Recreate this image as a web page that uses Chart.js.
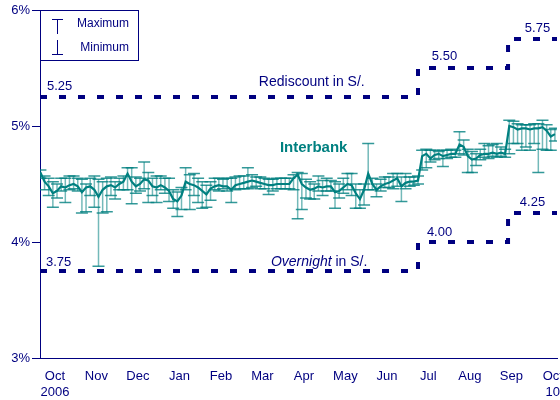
<!DOCTYPE html>
<html lang="en">
<head>
  <meta charset="UTF-8">
  <title>Interbank rate and BCRP rates</title>
  <script src="https://cdn.jsdelivr.net/npm/chart.js"></script>
  <style>
    html, body { margin: 0; padding: 0; background: #fff; overflow: hidden; }
    .wrap { position: relative; width: 580px; height: 400px; }
  </style>
</head>
<body>
  <div class="wrap">
    <canvas id="ratesChart"></canvas>
  </div>

  <script>
    // Month labels on the x axis (one per month, centred)
    const monthLabels = ['Oct', 'Nov', 'Dec', 'Jan', 'Feb', 'Mar', 'Apr', 'May', 'Jun', 'Jul', 'Aug', 'Sep', 'Oct'];
    const yearLabels  = ['2006', '', '', '', '', '', '', '', '', '', '', '', '10'];

    // Reference rates: month position where each level starts
    const rateStarts  = [0.14, 9.25, 11.42];
    const rediscount  = [5.25, 5.50, 5.75];
    const overnight   = [3.75, 4.00, 4.25];

    // Interbank rate, sampled across the period (in %)
    const X0 = 0.15, DX = 0.1;
    const interbank = [
      4.60,4.52,4.48,4.42,4.44,4.48,4.47,4.49,4.50,4.48,
      4.43,4.47,4.48,4.45,4.39,4.45,4.48,4.49,4.47,4.50,
      4.52,4.59,4.52,4.48,4.50,4.54,4.53,4.48,4.47,4.49,
      4.47,4.44,4.37,4.35,4.40,4.52,4.50,4.49,4.47,4.44,
      4.41,4.46,4.48,4.49,4.48,4.48,4.45,4.49,4.50,4.51,
      4.52,4.53,4.52,4.51,4.50,4.49,4.49,4.50,4.50,4.50,
      4.50,4.55,4.58,4.50,4.47,4.45,4.46,4.48,4.47,4.48,
      4.48,4.43,4.44,4.47,4.50,4.49,4.42,4.37,4.45,4.59,
      4.50,4.45,4.48,4.50,4.51,4.53,4.55,4.48,4.51,4.52,
      4.52,4.53,4.74,4.76,4.72,4.75,4.76,4.74,4.75,4.76,
      4.76,4.84,4.82,4.74,4.71,4.72,4.75,4.76,4.76,4.77,
      4.76,4.77,4.76,5.00,4.99,4.97,4.98,4.98,4.97,4.98,
      4.98,4.99,4.96,4.91,4.93
    ];
    const interbankMax = [
      4.62,4.57,4.55,4.52,4.50,4.55,4.55,4.57,4.57,4.55,
      4.54,4.50,4.55,4.57,4.54,4.52,4.55,4.56,4.52,4.55,
      4.57,4.64,4.64,4.56,4.55,4.69,4.60,4.55,4.57,4.57,
      4.55,4.55,4.45,4.43,4.47,4.64,4.58,4.59,4.55,4.52,
      4.49,4.52,4.55,4.55,4.54,4.55,4.55,4.56,4.57,4.57,
      4.64,4.58,4.56,4.56,4.55,4.54,4.54,4.55,4.55,4.55,
      4.55,4.58,4.60,4.59,4.54,4.52,4.50,4.57,4.53,4.55,
      4.53,4.52,4.50,4.55,4.59,4.59,4.50,4.45,4.50,4.85,
      4.55,4.50,4.54,4.56,4.56,4.59,4.59,4.56,4.59,4.56,
      4.56,4.57,4.79,4.80,4.79,4.79,4.78,4.79,4.79,4.80,
      4.79,4.95,4.88,4.80,4.78,4.76,4.80,4.85,4.83,4.84,
      4.85,4.82,4.80,5.05,5.04,5.02,5.01,5.01,5.01,5.02,
      5.02,5.05,5.01,4.97,4.98
    ];
    const interbankMin = [
      4.55,4.45,4.40,4.30,4.38,4.44,4.34,4.45,4.46,4.44,
      4.25,4.26,4.40,4.30,3.79,4.25,4.26,4.40,4.37,4.45,
      4.45,4.45,4.33,4.42,4.44,4.46,4.34,4.40,4.34,4.45,
      4.42,4.35,4.29,4.22,4.28,4.45,4.28,4.40,4.34,4.29,
      4.30,4.36,4.45,4.44,4.46,4.44,4.34,4.45,4.46,4.46,
      4.46,4.47,4.48,4.46,4.46,4.41,4.44,4.46,4.46,4.46,
      4.46,4.45,4.20,4.28,4.38,4.37,4.37,4.44,4.40,4.44,
      4.44,4.29,4.38,4.42,4.45,4.40,4.29,4.29,4.32,4.45,
      4.45,4.39,4.44,4.47,4.47,4.46,4.48,4.35,4.46,4.48,
      4.49,4.50,4.62,4.64,4.69,4.71,4.72,4.65,4.72,4.73,
      4.73,4.76,4.75,4.60,4.60,4.66,4.71,4.73,4.72,4.74,
      4.73,4.74,4.73,4.76,4.85,4.85,4.79,4.82,4.79,4.85,
      4.60,4.80,4.79,4.79,4.87
    ];

    const X_MIN = 0.14, X_MAX = 12.6;
    const NAVY = '#000080';
    const TEAL = '#008080';

    Chart.defaults.font.family = '"Liberation Sans", Arial, sans-serif';
    Chart.defaults.color = NAVY;

    const xs = interbank.map((v, i) => X0 + i * DX);
    const interbankPoints = interbank.map((v, i) => ({ x: xs[i], y: v }));

    function stepPoints(levels) {
      const pts = rateStarts.map((s, i) => ({ x: s, y: levels[i] }));
      pts.push({ x: X_MAX, y: levels[levels.length - 1] });
      return pts;
    }

    // max / min error bars behind the line
    const errorBars = {
      id: 'errorBars',
      beforeDatasetsDraw(chart) {
        const { ctx, chartArea, scales } = chart;
        ctx.save();
        ctx.beginPath();
        ctx.rect(chartArea.left, chartArea.top, chartArea.right - chartArea.left, chartArea.bottom - chartArea.top);
        ctx.clip();
        ctx.lineWidth = 1.5;
        for (let i = 0; i < interbank.length; i++) {
          const px = scales.x.getPixelForValue(xs[i]);
          const pTop = scales.y.getPixelForValue(interbankMax[i]);
          const pBot = scales.y.getPixelForValue(interbankMin[i]);
          ctx.strokeStyle = 'rgba(0,128,128,0.55)';
          ctx.beginPath();
          ctx.moveTo(px, pTop);
          ctx.lineTo(px, pBot);
          ctx.stroke();
          ctx.strokeStyle = 'rgba(0,128,128,0.8)';
          ctx.beginPath();
          ctx.moveTo(px - 6, pTop); ctx.lineTo(px + 6, pTop);
          ctx.moveTo(px - 6, pBot); ctx.lineTo(px + 6, pBot);
          ctx.stroke();
        }
        ctx.restore();
      }
    };

    // texts and the small max/min key
    const labels = {
      id: 'labels',
      afterDraw(chart) {
        const { ctx, scales } = chart;
        const X = v => scales.x.getPixelForValue(v);
        const Y = v => scales.y.getPixelForValue(v);
        ctx.save();
        ctx.textBaseline = 'middle';

        ctx.fillStyle = NAVY;
        ctx.font = '13px "Liberation Sans", Arial, sans-serif';
        ctx.textAlign = 'left';
        ctx.fillText('5.25', X(0.307), Y(5.345));
        ctx.fillText('5.50', X(9.584), Y(5.603));
        ctx.fillText('5.75', X(11.825), Y(5.845));
        ctx.fillText('3.75', X(0.283), Y(3.828));
        ctx.fillText('4.00', X(9.464), Y(4.086));
        ctx.fillText('4.25', X(11.705), Y(4.345));

        ctx.font = '14px "Liberation Sans", Arial, sans-serif';
        ctx.textAlign = 'center';
        ctx.fillText('Rediscount in S/.', X(6.69), Y(5.379));

        ctx.textAlign = 'left';
        ctx.font = 'italic 14px "Liberation Sans", Arial, sans-serif';
        const ox = X(5.705), oy = Y(3.828);
        ctx.fillText('Overnight', ox, oy);
        const w = ctx.measureText('Overnight').width;
        ctx.font = '14px "Liberation Sans", Arial, sans-serif';
        ctx.fillText(' in S/.', ox + w, oy);

        ctx.fillStyle = TEAL;
        ctx.font = 'bold 15px "Liberation Sans", Arial, sans-serif';
        ctx.fillText('Interbank', X(5.922), Y(4.81));

        // key box
        ctx.strokeStyle = NAVY;
        ctx.lineWidth = 1;
        ctx.strokeRect(40.5, 10.5, 98, 50);
        ctx.beginPath();
        ctx.moveTo(52, 19.5); ctx.lineTo(63, 19.5);
        ctx.moveTo(57.5, 19.5); ctx.lineTo(57.5, 34);
        ctx.moveTo(57.5, 40); ctx.lineTo(57.5, 54.5);
        ctx.moveTo(52, 54.5); ctx.lineTo(63, 54.5);
        ctx.stroke();
        ctx.fillStyle = NAVY;
        ctx.font = '12px "Liberation Sans", Arial, sans-serif';
        ctx.textAlign = 'right';
        ctx.fillText('Maximum', 129, 24);
        ctx.fillText('Minimum', 129, 48);
        ctx.restore();
      }
    };

    new Chart(document.getElementById('ratesChart'), {
      type: 'line',
      data: {
        datasets: [
          {
            label: 'Interbank',
            data: interbankPoints,
            borderColor: TEAL,
            borderWidth: 2.2,
            pointRadius: 0,
            tension: 0
          },
          {
            label: 'Rediscount',
            data: stepPoints(rediscount),
            borderColor: NAVY,
            borderWidth: 4,
            borderDash: [7, 12],
            borderCapStyle: 'butt',
            stepped: true,
            pointRadius: 0
          },
          {
            label: 'Overnight',
            data: stepPoints(overnight),
            borderColor: NAVY,
            borderWidth: 4,
            borderDash: [7, 12],
            borderCapStyle: 'butt',
            stepped: true,
            pointRadius: 0
          }
        ]
      },
      options: {
        responsive: true,
        maintainAspectRatio: false,
        animation: false,
        layout: { padding: { top: 10, right: 23, left: 0, bottom: 0 } },
        plugins: {
          legend: { display: false },
          tooltip: { enabled: false }
        },
        scales: {
          x: {
            type: 'linear',
            min: X_MIN,
            max: X_MAX,
            grid: { display: false },
            border: { color: NAVY, width: 1 },
            afterBuildTicks(scale) {
              scale.ticks = monthLabels.map((m, i) => ({ value: i + 0.5 }));
            },
            afterFit(scale) { scale.height = 42; },
            ticks: {
              autoSkip: false,
              maxRotation: 0,
              padding: 2,
              color: NAVY,
              font: { size: 13, lineHeight: 1.25 },
              callback: (v, i) => yearLabels[i] ? [monthLabels[i], yearLabels[i]] : monthLabels[i]
            }
          },
          y: {
            min: 3,
            max: 6,
            grid: { drawOnChartArea: false, tickLength: 8, color: NAVY },
            border: { color: NAVY, width: 1 },
            afterFit(scale) { scale.width = 40; },
            ticks: {
              stepSize: 1,
              padding: 2,
              color: NAVY,
              font: { size: 13 },
              callback: v => v + '%'
            }
          }
        }
      },
      plugins: [errorBars, labels]
    });
  </script>
</body>
</html>
